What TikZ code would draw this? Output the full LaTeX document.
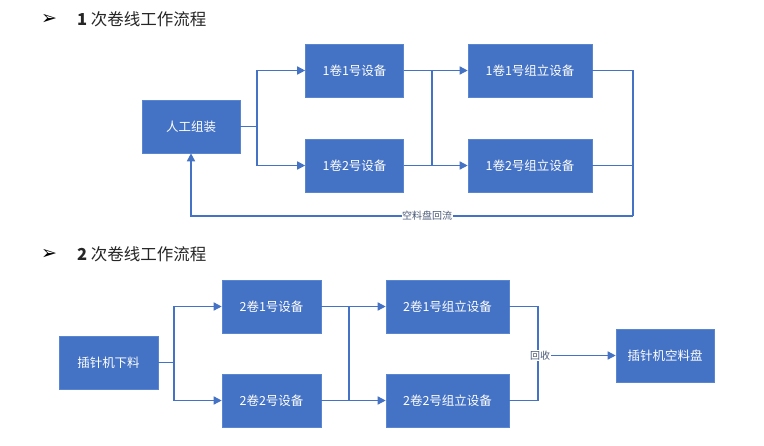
\documentclass[tikz,border=0pt]{standalone}
\usepackage{fontspec}
\newfontfamily\cjk{Noto Sans CJK SC}
\newfontfamily\sym{DejaVu Sans}
\usetikzlibrary{arrows.meta}
\definecolor{boxblue}{HTML}{4472C4}
\definecolor{edgeblue}{HTML}{5A85D0}
\definecolor{lblcol}{HTML}{4A5A78}
\definecolor{titlecol}{HTML}{262626}
\tikzset{
  box/.style={draw=edgeblue, line width=0.6pt, fill=boxblue, text=white, minimum height=53pt, inner sep=0pt, font=\cjk\fontsize{12.5}{14}\selectfont},
  wide/.style={box, minimum width=98pt},
  wider/.style={box, minimum width=124pt},
  conn/.style={draw=boxblue, line width=1.5pt},
  arr/.style={conn, -{Triangle[length=8pt,width=8pt]}},
  lbl/.style={fill=white, inner sep=0.5pt, text=lblcol, font=\cjk\fontsize{10}{12}\selectfont},
  ttl/.style={anchor=west, inner sep=0pt, text=titlecol, font=\cjk\fontsize{16.5}{18}\selectfont},
  bulletmark/.style={inner sep=0pt, text=black, font=\sym\fontsize{19}{20}\selectfont}
}
\begin{document}
\begin{tikzpicture}[x=1pt,y=-1pt]
\useasboundingbox[fill=white] (0,0) rectangle (764,445);
% titles
\node[bulletmark] (m1) at (49,19) {➢};
\node[ttl] (t1) at (77,19) {\textbf{1} 次卷线工作流程};
\node[bulletmark] (m2) at (49,254) {➢};
\node[ttl] (t2) at (77,254) {\textbf{2} 次卷线工作流程};
% diagram 1
\node[wide] (rg) at (191,126.5) {人工组装};
\node[wide] (b11) at (354.5,70.5) {1卷1号设备};
\node[wide] (b12) at (354.5,165.5) {1卷2号设备};
\node[wider] (c11) at (530,70.5) {1卷1号组立设备};
\node[wider] (c12) at (530,165.5) {1卷2号组立设备};
\coordinate (s1) at (257,126.5);
\coordinate (m1t) at (432,70.5);
\coordinate (m1b) at (432,165.5);
\coordinate (r1t) at (633,70.5);
\coordinate (r1b) at (633,165.5);
\coordinate (r1c) at (633,216);
\draw[conn] (rg.east) -- (s1);
\draw[arr] (s1) |- (b11.west);
\draw[arr] (s1) |- (b12.west);
\draw[conn] (b11.east) -- (m1t) -- (m1b) -- (b12.east);
\draw[arr] (m1t) -- (c11.west);
\draw[arr] (m1b) -- (c12.west);
\draw[conn] (c11.east) -- (r1t) -- (r1c);
\draw[conn] (c12.east) -- (r1b);
\draw[arr] (r1c) -| (rg.south);
\node[lbl] (l1) at (427,216) {空料盘回流};
% diagram 2
\node[wide, minimum width=99pt] (xj) at (108.5,362.5) {插针机下料};
\node[wide, minimum width=99pt] (d21) at (271.5,306.5) {2卷1号设备};
\node[wide, minimum width=99pt] (d22) at (271.5,400.5) {2卷2号设备};
\node[wider, minimum width=123pt] (e21) at (447.5,306.5) {2卷1号组立设备};
\node[wider, minimum width=123pt] (e22) at (447.5,400.5) {2卷2号组立设备};
\node[wide] (pk) at (665,355.5) {插针机空料盘};
\coordinate (s2) at (174,362.5);
\coordinate (m2t) at (349,306.5);
\coordinate (m2b) at (349,400.5);
\coordinate (r2t) at (538,306.5);
\coordinate (r2b) at (538,400.5);
\coordinate (r2m) at (538,355.5);
\draw[conn] (xj.east) -- (s2);
\draw[arr] (s2) |- (d21.west);
\draw[arr] (s2) |- (d22.west);
\draw[conn] (d21.east) -- (m2t) -- (m2b) -- (d22.east);
\draw[arr] (m2t) -- (e21.west);
\draw[arr] (m2b) -- (e22.west);
\draw[conn] (e21.east) -- (r2t) -- (r2b) -- (e22.east);
\draw[arr] (r2m) -- (pk.west);
\node[lbl] (l2) at (540,355.5) {回收};
\end{tikzpicture}
\end{document}
